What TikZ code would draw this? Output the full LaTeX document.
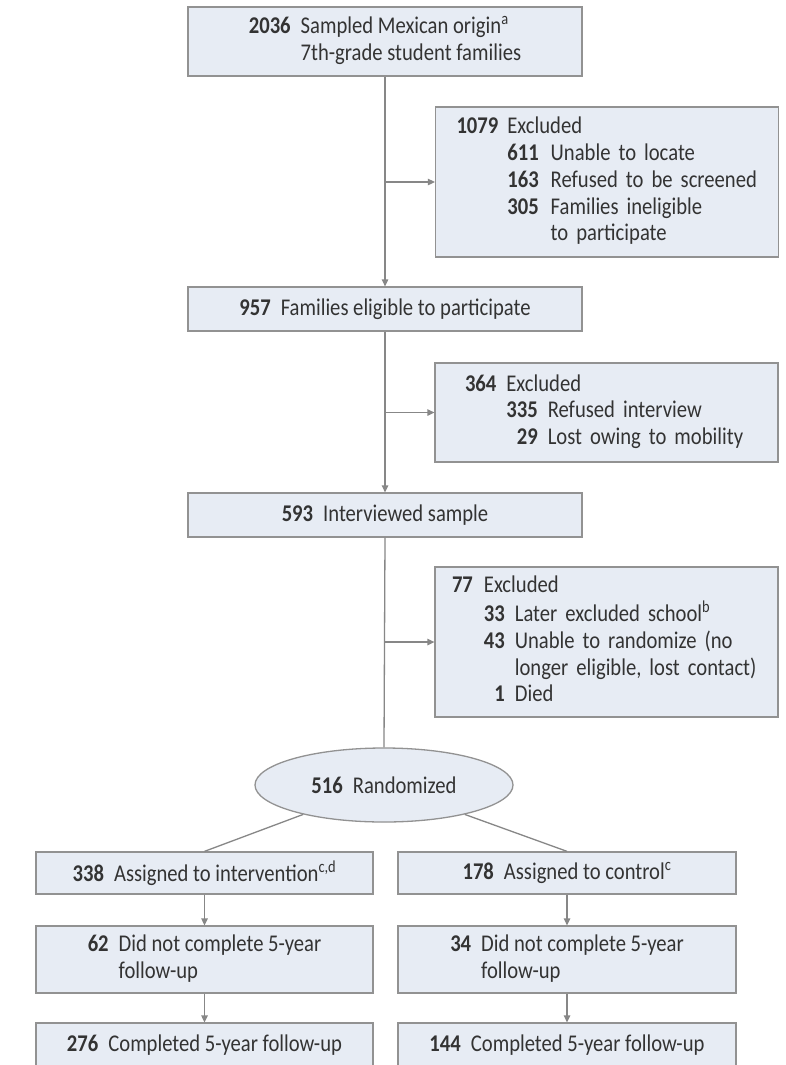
\documentclass[tikz,border=0pt]{standalone}
\usepackage{fontspec}
\setmainfont{Carlito}[FakeStretch=0.86]
\usetikzlibrary{arrows.meta,shapes.geometric}

\definecolor{boxfill}{HTML}{E7ECF4}
\definecolor{boxline}{HTML}{929292}
\definecolor{linkline}{HTML}{878787}
\definecolor{ink}{HTML}{333333}

% count followed by its label
\newcommand{\cnt}[2]{\textbf{#1}\hspace{10pt}#2}

\tikzset{
  flowbox/.style={rectangle, draw=boxline, fill=boxfill, line width=1.3pt,
    inner sep=0pt, text=ink, font=\fontsize{24}{26.7}\selectfont, align=center},
  exclbox/.style={flowbox, align=left, minimum width=343pt},
  randnode/.style={ellipse, draw=boxline, fill=boxfill, line width=1.3pt,
    inner sep=0pt, text=ink, font=\fontsize{24}{26.7}\selectfont,
    minimum width=258pt, minimum height=74pt},
  link/.style={draw=linkline, line width=1.3pt},
  arrowlink/.style={link, -{Triangle[length=7pt,width=6.5pt]}},
}

\begin{document}
\begin{tikzpicture}[x=1pt, y=-1pt]
  \useasboundingbox (0,0) rectangle (786,1065);
  \fill[white] (0,0) rectangle (786,1065);
  \clip (0,0) rectangle (786,1065);

  % main column
  \node[flowbox, minimum width=394pt, minimum height=69pt] (sampled) at (385,41.5)
    {\begin{tabular}{@{}r@{\hspace{10pt}}l@{}}
      \textbf{2036} & Sampled Mexican origin\textsuperscript{a}\\
                    & 7th-grade student families
     \end{tabular}};

  \node[exclbox, text width=301pt, inner xsep=21pt, minimum height=150pt] (excl1) at (607,182)
    {\begin{tabular}{@{}r@{\hspace{9pt}}r@{\hspace{12pt}}l@{}}
      \textbf{1079} & \multicolumn{2}{@{}l@{}}{Excluded}\\
        & \textbf{611} & Unable to locate\\
        & \textbf{163} & Refused to be screened\\
        & \textbf{305} & Families ineligible\\
        &              & to participate
     \end{tabular}};

  \node[flowbox, minimum width=394pt, minimum height=44pt] (eligible) at (385,309)
    {\cnt{957}{Families eligible to participate}};

  \node[exclbox, text width=283pt, inner xsep=30pt, minimum height=99pt] (excl2) at (606.5,412.5)
    {\begin{tabular}{@{}r@{\hspace{10pt}}r@{\hspace{10pt}}l@{}}
      \textbf{364} & \multicolumn{2}{@{}l@{}}{Excluded}\\
        & \textbf{335} & Refused interview\\
        & \textbf{29}  & Lost owing to mobility
     \end{tabular}};

  \node[flowbox, minimum width=394pt, minimum height=44pt] (interviewed) at (385,515)
    {\cnt{593}{Interviewed sample}};

  \node[exclbox, text width=309pt, inner xsep=17pt, minimum height=150pt] (excl3) at (606.5,642)
    {\begin{tabular}{@{}r@{\hspace{11pt}}r@{\hspace{10pt}}l@{}}
      \textbf{77} & \multicolumn{2}{@{}l@{}}{Excluded}\\
        & \textbf{33} & Later excluded school\textsuperscript{b}\\
        & \textbf{43} & Unable to randomize (no\\
        &             & longer eligible, lost contact)\\
        & \textbf{1}  & Died
     \end{tabular}};

  \node[randnode] (rand) at (384,785) {\cnt{516}{Randomized}};

  % two arms
  \node[flowbox, minimum width=337pt, minimum height=42pt] (assignI) at (204.5,873)
    {\cnt{338}{Assigned to intervention\textsuperscript{c,d}}};
  \node[flowbox, minimum width=338pt, minimum height=42pt] (assignC) at (567,873)
    {\cnt{178}{Assigned to control\textsuperscript{c}}};

  \node[flowbox, minimum width=337pt, minimum height=67pt] (dropI) at (204.5,959.5)
    {\begin{tabular}{@{}r@{\hspace{10pt}}l@{}}
      \textbf{62} & Did not complete 5-year\\
                  & follow-up
     \end{tabular}};
  \node[flowbox, minimum width=338pt, minimum height=67pt] (dropC) at (567,959.5)
    {\begin{tabular}{@{}r@{\hspace{10pt}}l@{}}
      \textbf{34} & Did not complete 5-year\\
                  & follow-up
     \end{tabular}};

  \node[flowbox, minimum width=337pt, minimum height=45pt] (doneI) at (204.5,1045.5)
    {\cnt{276}{Completed 5-year follow-up}};
  \node[flowbox, minimum width=338pt, minimum height=45pt] (doneC) at (567,1045.5)
    {\cnt{144}{Completed 5-year follow-up}};

  % connectors
  \draw[arrowlink] (sampled.south) -- (eligible.north);
  \draw[arrowlink] (sampled.south |- excl1.west) -- (excl1.west);
  \draw[arrowlink] (eligible.south) -- (interviewed.north);
  \draw[arrowlink] (eligible.south |- excl2.west) -- (excl2.west);
  \draw[link] (interviewed.south) -- (rand.north);
  \draw[arrowlink] (interviewed.south |- excl3.west) -- (excl3.west);

  \draw[link] (rand.200) -- (assignI.north);
  \draw[link] (rand.-20) -- (assignC.north);

  \draw[arrowlink] (assignI.south) -- (dropI.north);
  \draw[arrowlink] (dropI.south) -- (doneI.north);
  \draw[arrowlink] (assignC.south) -- (dropC.north);
  \draw[arrowlink] (dropC.south) -- (doneC.north);
\end{tikzpicture}
\end{document}
